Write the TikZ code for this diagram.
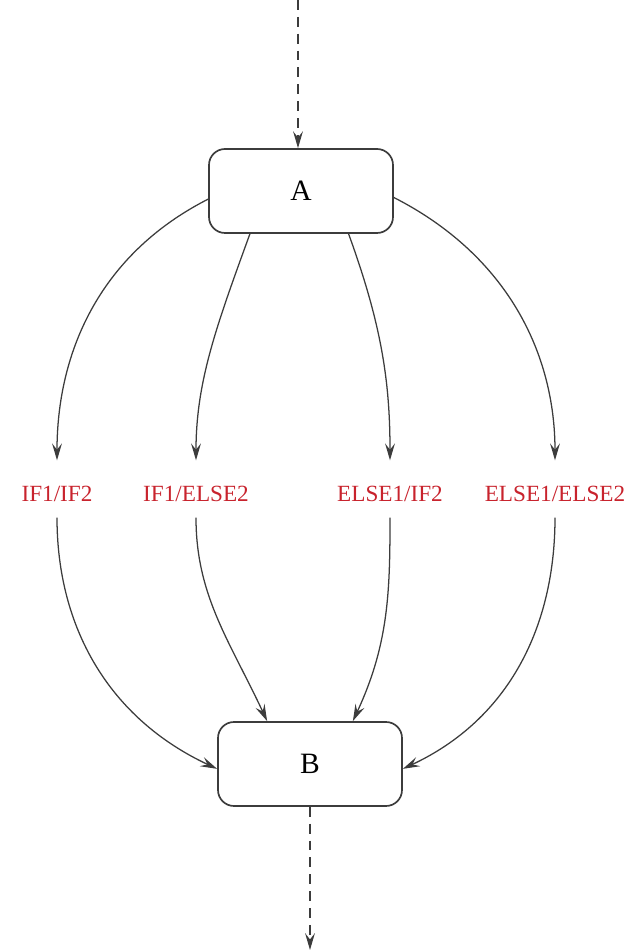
\documentclass[tikz,border=0pt]{standalone}
\usepackage{fontspec}
\setmainfont{Liberation Serif}
\usepackage{tikz}
\usetikzlibrary{arrows.meta}
\definecolor{branchdark}{RGB}{60,60,60}
\definecolor{branchred}{RGB}{200,35,45}
\tikzset{
  blockbox/.style={draw=branchdark,line width=1.2pt,rounded corners=0.4cm,minimum width=4.6cm,minimum height=2.1cm,font=\fontsize{21}{25}\selectfont},
  caselabel/.style={text=branchred,font=\fontsize{16.5}{19}\selectfont,inner sep=4pt},
  flowarrow/.style={draw=branchdark,line width=0.9pt,-{Stealth[length=12pt,width=7pt,inset=4.5pt]}},
  passarrow/.style={flowarrow,dash pattern=on 7pt off 5pt}
}

\begin{document}
\begin{tikzpicture}
  \useasboundingbox (0,0) rectangle (16,23.8);
  \node[blockbox] (A) at (7.525,19.025) {A};
  \node[blockbox] (B) at (7.75,4.7) {B};
  \coordinate (entry) at (7.45,23.8); \coordinate (exit) at (7.75,0.05);
  \node[caselabel] (ifif) at (1.425,11.45) {IF1/IF2};
  \node[caselabel] (ifelse) at (4.9,11.45) {IF1/ELSE2};
  \node[caselabel] (elseif) at (9.75,11.45) {ELSE1/IF2};
  \node[caselabel] (elseelse) at (13.875,11.45) {ELSE1/ELSE2};
  \draw[passarrow] (entry) -- (entry |- A.north);
  \draw[passarrow] (B.south) -- (exit);
  % A to the four cases
  \draw[flowarrow,shorten >=0.5cm] (A.185) to[out=207,in=90] (ifif.north);
  \draw[flowarrow,shorten >=0.5cm] (A.220) to[out=250,in=90] (ifelse.north);
  \draw[flowarrow,shorten >=0.5cm] (A.318) to[out=290,in=90] (elseif.north);
  \draw[flowarrow,shorten >=0.5cm] (A.-4) to[out=-27,in=90] (elseelse.north);
  % the four cases to B
  \draw[flowarrow,shorten <=0.25cm] (ifif.south) to[out=-90,in=155] (B.183);
  \draw[flowarrow,shorten <=0.25cm] (ifelse.south) to[out=-90,in=115] (B.135);
  \draw[flowarrow,shorten <=0.25cm] (elseif.south) to[out=-90,in=65] (B.45);
  \draw[flowarrow,shorten <=0.25cm] (elseelse.south) to[out=-90,in=25] (B.-3);
\end{tikzpicture}
\end{document}
